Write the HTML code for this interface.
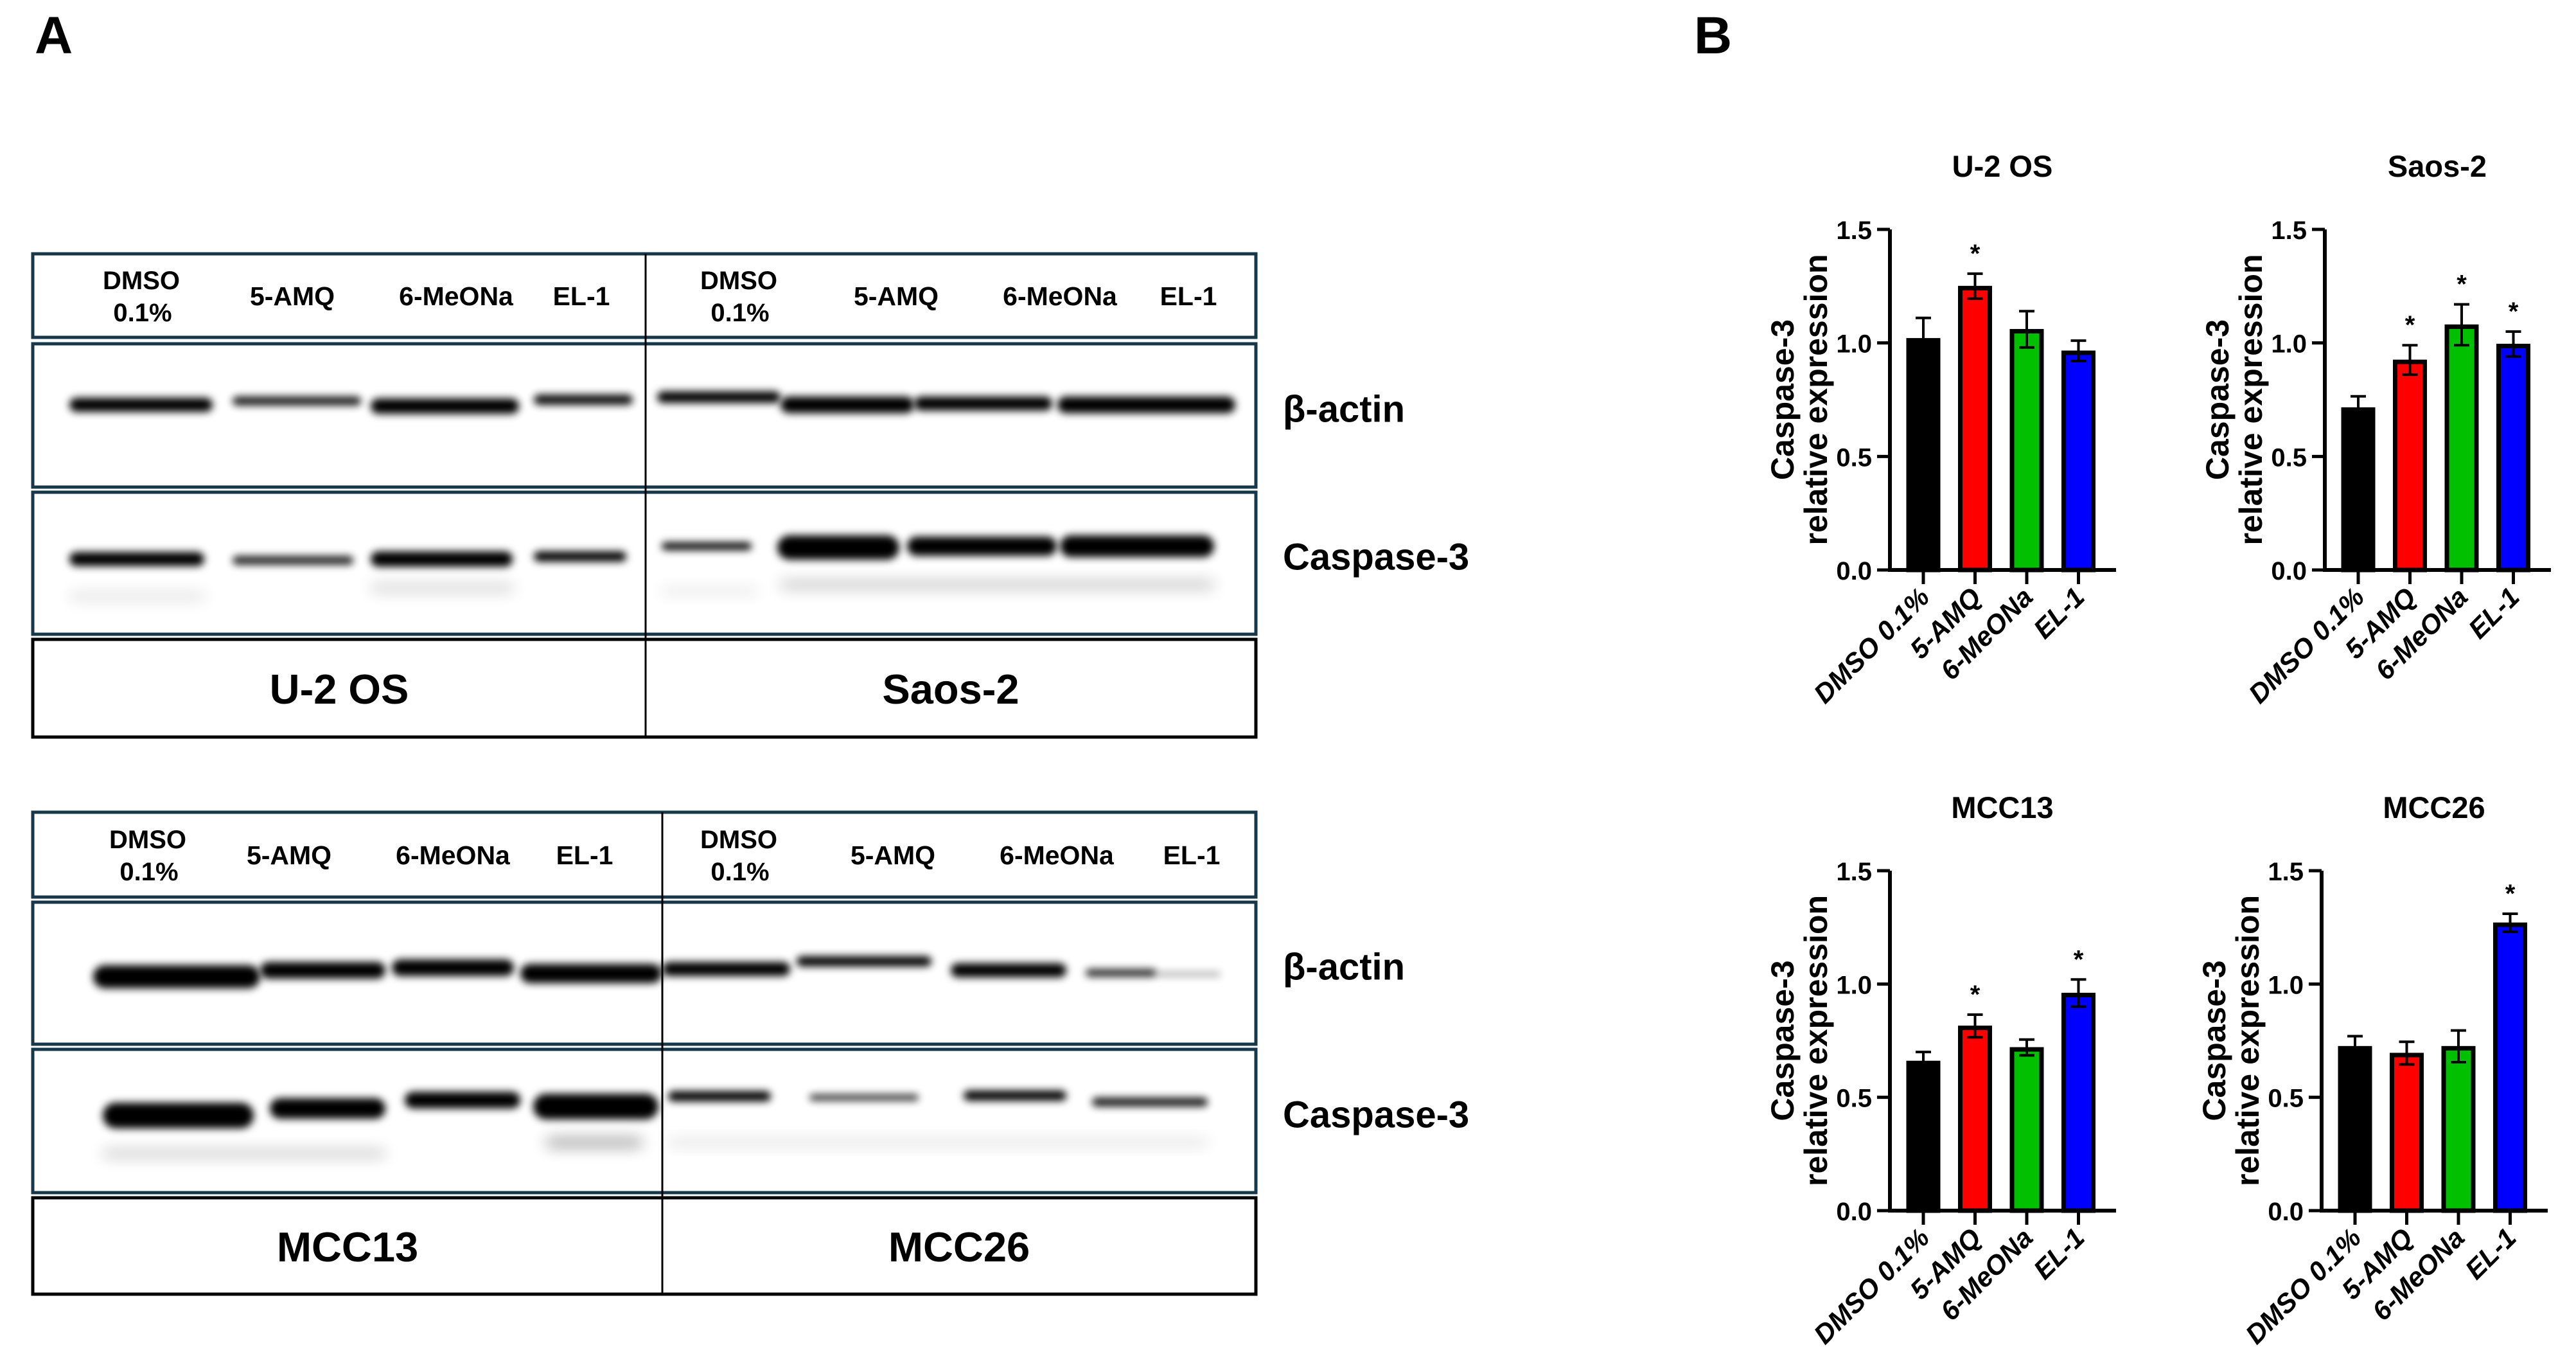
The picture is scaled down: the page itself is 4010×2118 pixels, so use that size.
<!DOCTYPE html>
<html><head><meta charset="utf-8"><style>
html,body{margin:0;padding:0;background:#fff;}
svg{display:block;font-family:"Liberation Sans",Arial,sans-serif;font-weight:bold;}
</style></head><body>
<svg id="fig" width="4010" height="2118" viewBox="0 0 4010 2118" xmlns="http://www.w3.org/2000/svg">
<defs>
<filter id="b6" x="-20%" y="-200%" width="140%" height="500%"><feGaussianBlur stdDeviation="6"/></filter>
<filter id="b12" x="-20%" y="-300%" width="140%" height="700%"><feGaussianBlur stdDeviation="12"/></filter>
</defs>
<text x="54" y="83" font-size="82">A</text>
<text x="2637" y="83" font-size="82">B</text>
<g id="blots"></g>
<g id="charts"></g>
</svg>
<script>
// ---------- chart data ----------
const categories = ["DMSO 0.1%", "5-AMQ", "6-MeONa", "EL-1"];
const barColors = ["#000000", "#ff0000", "#00c000", "#0000ff"];
const yTicks = [0.0, 0.5, 1.0, 1.5];
const yTickLabels = ["0.0", "0.5", "1.0", "1.5"];
const panelTitles = ["U-2 OS", "Saos-2", "MCC13", "MCC26"];
const u2osMeans = [1.02, 1.25, 1.06, 0.965];
const u2osErrors = [0.09, 0.055, 0.08, 0.045];
const u2osStars = [false, true, false, false];
const saos2Means = [0.715, 0.925, 1.08, 0.995];
const saos2Errors = [0.05, 0.065, 0.09, 0.055];
const saos2Stars = [false, true, true, true];
const mcc13Means = [0.66, 0.815, 0.72, 0.96];
const mcc13Errors = [0.04, 0.05, 0.035, 0.06];
const mcc13Stars = [false, true, false, true];
const mcc26Means = [0.725, 0.695, 0.725, 1.27];
const mcc26Errors = [0.045, 0.05, 0.07, 0.04];
const mcc26Stars = [false, false, false, true];

const NS = "http://www.w3.org/2000/svg";
function mk(tag, attrs, parent, text) {
  const e = document.createElementNS(NS, tag);
  for (const k in attrs) e.setAttribute(k, attrs[k]);
  if (text !== undefined) e.textContent = text;
  parent.appendChild(e);
  return e;
}

const charts = document.getElementById('charts');
const panels = [
  {ax: 2942, top: 357, bot: 887, means: u2osMeans, errs: u2osErrors, stars: u2osStars, slug: 'u2os'},
  {ax: 3619, top: 357, bot: 887, means: saos2Means, errs: saos2Errors, stars: saos2Stars, slug: 'saos2'},
  {ax: 2942, top: 1355, bot: 1884, means: mcc13Means, errs: mcc13Errors, stars: mcc13Stars, slug: 'mcc13'},
  {ax: 3614, top: 1355, bot: 1884, means: mcc26Means, errs: mcc26Errors, stars: mcc26Stars, slug: 'mcc26'}
];
panels.forEach((p, pi) => {
  const g = mk('g', {}, charts);
  
  
  const yMax = 1.5;
  const y = v => p.bot - (v / yMax) * (p.bot - p.top);
  const step = 80.5, x0 = p.ax + 52;
  const x = i => x0 + i * step;
  const bw = 52;
  const t = mk('text', {x: p.ax + 175, y: p.top - 82, 'font-size': 47, 'text-anchor': 'middle'}, g, panelTitles[pi]);
  
  
  const yt = mk('text', {transform: `translate(${p.ax - 150},${(p.top + p.bot) / 2}) rotate(-90)`, 'font-size': 50, 'text-anchor': 'middle'}, g);
  
  
  mk('tspan', {x: 0, dy: 0}, yt, 'Caspase-3');
  mk('tspan', {x: 0, dy: 52}, yt, 'relative expression');
  p.means.forEach((m, i) => {
    const cx = x(i);
    const r = mk('rect', {x: cx - bw / 2 + 3, y: y(m) + 3, width: bw - 6, height: p.bot - y(m) - 3, fill: barColors[i], stroke: '#000', 'stroke-width': 7}, g);
    
    
    const e = p.errs[i];
    const eb = mk('path', {d: `M${cx},${y(m + e)}V${y(m - e)}M${cx - 12},${y(m + e)}H${cx + 12}M${cx - 12},${y(m - e)}H${cx + 12}`, stroke: '#000', 'stroke-width': 4, fill: 'none'}, g);
    
    
    if (p.stars[i]) {
      const s = mk('text', {x: cx, y: y(m + e) - 18, 'font-size': 40, 'text-anchor': 'middle'}, g, '*');
      
      
    }
    const tk = mk('line', {x1: cx, x2: cx, y1: p.bot, y2: p.bot + 22, stroke: '#000', 'stroke-width': 5}, g);
    
    
    const lb = mk('text', {transform: `translate(${cx + 12},${p.bot + 45}) rotate(-45)`, 'font-size': 42, 'font-style': 'italic', 'text-anchor': 'end'}, g, categories[i]);
    
    
  });
  const axl = mk('path', {d: `M${p.ax},${p.top}V${p.bot}H${p.ax + 352}`, stroke: '#000', 'stroke-width': 6, fill: 'none'}, g);
  
  
  yTicks.forEach((v, k) => {
    const tl = mk('line', {x1: p.ax - 20, x2: p.ax, y1: y(v), y2: y(v), stroke: '#000', 'stroke-width': 5}, g);
    
    
    const tt = mk('text', {x: p.ax - 28, y: y(v) + 15, 'font-size': 40, 'text-anchor': 'end'}, g, yTickLabels[k]);
    
    
  });
});

// ---------- western blots ----------
const blots = document.getElementById('blots');
const lanesNames = ["5-AMQ", "6-MeONa", "EL-1"];
const blotDefs = [
  {x1: 51, x2: 1955, div: 1005, hdr: [395, 525], act: [535, 758], cas: [766, 987], lab: [995, 1147],
   names: ["U-2 OS", "Saos-2"], slug: 'top',
   hx: [220, 455, 710, 905, 1150, 1395, 1650, 1850],
   actBands: [[108,331,630,22,1],[362,562,624,14,0.9],[577,808,632,24,1],[831,985,622,16,0.95],[1023,1215,618,18,1],[1215,1423,630,26,1],[1423,1638,628,22,1],[1646,1923,630,26,1]],
   casBands: [[108,318,870,22,1],[362,550,872,14,0.85],[577,798,870,24,1],[831,975,866,16,1],[1030,1170,850,12,1],[1210,1400,852,38,1],[1412,1645,850,30,1],[1650,1890,850,34,1]],
   faint: [[108,320,928,8,0.2],[577,800,915,8,0.3],[1215,1890,910,8,0.4],[1030,1180,920,6,0.2]]},
  {x1: 51, x2: 1955, div: 1031, hdr: [1264, 1396], act: [1404, 1625], cas: [1633, 1856], lab: [1864, 2014],
   names: ["MCC13", "MCC26"], slug: 'bottom',
   hx: [230, 450, 705, 910, 1150, 1390, 1645, 1855],
   actBands: [[145,405,1520,36,1],[405,600,1510,26,1],[610,800,1506,26,1],[810,1030,1515,30,1],[1031,1230,1508,22,1],[1240,1450,1496,16,1],[1480,1660,1510,22,1],[1690,1800,1514,12,0.85],[1800,1900,1516,8,0.3]],
   casBands: [[160,395,1736,40,1],[420,600,1725,32,1],[630,810,1712,26,1],[830,1025,1722,40,1],[1040,1200,1706,16,1],[1260,1430,1708,10,0.8],[1500,1660,1705,16,1],[1700,1880,1715,14,0.9]],
   faint: [[160,600,1795,8,0.35],[850,1000,1778,10,0.55],[1040,1880,1778,6,0.25]]}
];
blotDefs.forEach(b => {
  const g = mk('g', {}, blots);
  
  
  [b.hdr, b.act, b.cas, b.lab].forEach((r, k) => {
    const box = mk('rect', {x: b.x1, y: r[0], width: b.x2 - b.x1, height: r[1] - r[0], fill: 'none', stroke: k === 3 ? '#000' : '#17384a', 'stroke-width': 5}, g);
    
    
  });
  const dv = mk('line', {x1: b.div, x2: b.div, y1: b.hdr[0], y2: b.lab[1], stroke: '#000', 'stroke-width': 3}, g);
  
  
  const bands = mk('g', {}, g);
  
  
  const draw = (arr, f) => arr.forEach(a => {
    const el = mk('rect', {x: a[0], y: a[2] - a[3] / 2, width: a[1] - a[0], height: a[3], rx: a[3] / 2, fill: '#000', opacity: a[4], filter: f}, bands);
    
    
  });
  draw(b.faint, 'url(#b12)');
  draw(b.actBands, 'url(#b6)');
  draw(b.casBands, 'url(#b6)');
  b.hx.forEach((hx, i) => {
    const li = i % 4;
    const hy = (b.hdr[0] + b.hdr[1]) / 2;
    if (li === 0) {
      const t1 = mk('text', {x: hx, y: hy - 10, 'font-size': 40, 'text-anchor': 'middle'}, g, 'DMSO');
      
      
      const t2 = mk('text', {x: hx + 2, y: hy + 40, 'font-size': 40, 'text-anchor': 'middle'}, g, '0.1%');
      
      
    } else {
      const t = mk('text', {x: hx, y: hy + 15, 'font-size': 41, 'text-anchor': 'middle'}, g, lanesNames[li - 1]);
      
      
    }
  });
  const ly = (b.lab[0] + b.lab[1]) / 2 + 24;
  const n1 = mk('text', {x: (b.x1 + b.div) / 2, y: ly, 'font-size': 65, 'text-anchor': 'middle'}, g, b.names[0]);
  
  
  const n2 = mk('text', {x: (b.div + b.x2) / 2, y: ly, 'font-size': 65, 'text-anchor': 'middle'}, g, b.names[1]);
  
  
  const a = mk('text', {x: 1997, y: (b.act[0] + b.act[1]) / 2 + 10, 'font-size': 58}, g, 'β-actin');
  
  
  const c = mk('text', {x: 1997, y: (b.cas[0] + b.cas[1]) / 2 + 10, 'font-size': 58}, g, 'Caspase-3');
  
  
});
</script>
</body></html>
